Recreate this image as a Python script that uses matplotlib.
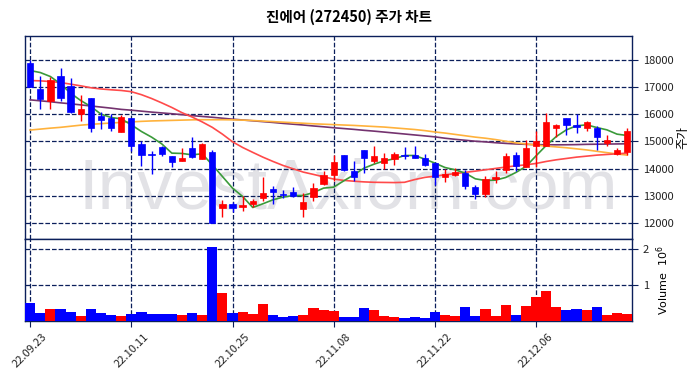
import numpy as np
import matplotlib
matplotlib.use("Agg")
import matplotlib.pyplot as plt
from matplotlib.ticker import FuncFormatter

plt.rcParams['font.family'] = ['Noto Sans CJK KR', 'DejaVu Sans']
plt.rcParams['axes.unicode_minus'] = False

#%% data
dates = ['22.09.23', '22.09.26', '22.09.27', '22.09.28', '22.09.29', '22.09.30',
         '22.10.04', '22.10.05', '22.10.06', '22.10.07', '22.10.11', '22.10.12',
         '22.10.13', '22.10.14', '22.10.17', '22.10.18', '22.10.19', '22.10.20',
         '22.10.21', '22.10.24', '22.10.25', '22.10.26', '22.10.27', '22.10.28',
         '22.10.31', '22.11.01', '22.11.02', '22.11.03', '22.11.04', '22.11.07',
         '22.11.08', '22.11.09', '22.11.10', '22.11.11', '22.11.14', '22.11.15',
         '22.11.16', '22.11.17', '22.11.18', '22.11.21', '22.11.22', '22.11.23',
         '22.11.24', '22.11.25', '22.11.28', '22.11.29', '22.11.30', '22.12.01',
         '22.12.02', '22.12.05', '22.12.06', '22.12.07', '22.12.08', '22.12.09',
         '22.12.12', '22.12.13', '22.12.14', '22.12.15', '22.12.16', '22.12.19']

open_ = [17880, 16920, 16500, 17410, 17040, 16010, 16590, 15940, 15870, 15345,
         15860, 14900, 14530, 14800, 14470, 14300, 14760, 14360, 14610, 12570,
         12700, 12580, 12710, 12940, 13260, 13070, 13140, 12510, 12960, 13430,
         13750, 14510, 13920, 14690, 14290, 14200, 14360, 14510, 14510, 14390,
         14200, 13690, 13780, 13840, 13310, 13080, 13630, 13960, 14510, 14080,
         14840, 14850, 15510, 15860, 15610, 15510, 15490, 14940, 14550, 14610]
high = [18000, 17390, 17370, 17700, 17350, 16700, 16600, 16070, 16010, 15960,
        15880, 15000, 14650, 14820, 14480, 14760, 15180, 14930, 14670, 12860,
        12760, 12980, 12880, 13690, 13370, 13200, 13320, 13120, 13470, 13930,
        14510, 14510, 14300, 14700, 14820, 14570, 14630, 14790, 14840, 14540,
        14260, 13990, 14020, 13950, 13410, 13740, 13900, 14570, 14630, 15060,
        15370, 16040, 15640, 15870, 16000, 15770, 15580, 15250, 14760, 15490]
low = [17000, 16190, 16190, 16470, 16040, 15760, 15340, 15450, 15380, 15345,
       14650, 14110, 13810, 14450, 14060, 14300, 14380, 14360, 12000, 12230,
       12420, 12450, 12610, 12830, 12710, 12920, 12960, 12220, 12830, 13400,
       13560, 13930, 13530, 13840, 14200, 13990, 14140, 14350, 14380, 14110,
       13400, 13510, 13720, 13250, 12890, 12950, 13470, 13860, 13930, 14060,
       14080, 14830, 15180, 15240, 15310, 15400, 14670, 14850, 14490, 14510]
close = [17000, 16560, 17270, 16580, 16080, 16200, 15490, 15780, 15510, 15900,
         14820, 14510, 14490, 14530, 14230, 14410, 14440, 14910, 12000, 12700,
         12540, 12670, 12820, 13100, 13130, 13020, 12990, 12790, 13290, 13750,
         14230, 13940, 13680, 14390, 14470, 14390, 14550, 14480, 14390, 14120,
         13700, 13810, 13870, 13380, 13080, 13630, 13710, 14470, 14110, 14760,
         15020, 15730, 15610, 15610, 15520, 15710, 15180, 15060, 14670, 15390]
volume = [500000, 220000, 330000, 330000, 240000, 130000, 330000, 220000, 160000, 130000,
          190000, 240000, 190000, 190000, 190000, 160000, 220000, 160000, 2070000, 790000,
          220000, 240000, 190000, 470000, 160000, 100000, 130000, 160000, 360000, 300000,
          270000, 100000, 100000, 360000, 300000, 130000, 100000, 80000, 100000, 80000,
          240000, 160000, 130000, 380000, 130000, 330000, 130000, 440000, 160000, 410000,
          660000, 830000, 380000, 300000, 330000, 300000, 380000, 160000, 220000, 190000]

ma5 = [17607, 17534, 17387, 17118, 16776, 16505, 16285, 16005, 15882, 15832,
       15612, 15367, 15160, 14914, 14572, 14560, 14510, 14547, 14143, 13714,
       13286, 12978, 12574, 12710, 12857, 12955, 13016, 13016, 13124, 13286,
       13322, 13555, 13775, 14021, 14168, 14290, 14363, 14485, 14485, 14352,
       14205, 14044, 13959, 13837, 13628, 13566, 13580, 13677, 13860, 14082,
       14473, 14853, 15183, 15428, 15575, 15612, 15513, 15428, 15270, 15220]
ma20 = [17240, 17228, 17203, 17166, 17107, 17045, 16975, 16930, 16900, 16875,
        16830, 16720, 16580, 16420, 16250, 16060, 15900, 15720, 15520, 15270,
        14990, 14780, 14600, 14425, 14266, 14118, 13995, 13874, 13790, 13700,
        13620, 13570, 13540, 13515, 13500, 13495, 13490, 13500, 13600, 13680,
        13726, 13775, 13820, 13865, 13910, 13960, 14010, 14060, 14105, 14143,
        14192, 14266, 14327, 14376, 14425, 14461, 14498, 14523, 14547, 14572]
ma60 = [15420, 15455, 15490, 15520, 15560, 15600, 15630, 15655, 15680, 15700,
        15720, 15740, 15755, 15765, 15775, 15785, 15795, 15800, 15800, 15800,
        15795, 15785, 15770, 15750, 15730, 15710, 15690, 15670, 15650, 15635,
        15620, 15605, 15590, 15570, 15550, 15530, 15500, 15470, 15440, 15400,
        15350, 15310, 15260, 15210, 15160, 15120, 15070, 15010, 14950, 14910,
        14870, 14830, 14800, 14770, 14730, 14690, 14640, 14590, 14540, 14500]
ma120 = [16530, 16495, 16460, 16420, 16385, 16345, 16305, 16265, 16225, 16180,
         16150, 16115, 16080, 16050, 16020, 15985, 15950, 15920, 15890, 15855,
         15820, 15790, 15760, 15730, 15700, 15665, 15635, 15605, 15570, 15540,
         15505, 15475, 15445, 15410, 15380, 15345, 15310, 15275, 15240, 15205,
         15170, 15120, 15080, 15045, 15010, 14985, 14955, 14930, 14910, 14895,
         14885, 14880, 14878, 14880, 14885, 14895, 14900, 14905, 14910, 14915]

#%% figure
navy = '#0b1f5b'
x = np.arange(len(dates))
o = np.array(open_)
c = np.array(close)
up = c >= o
col = np.where(up, '#ff0000', '#0000ff')

fig = plt.figure(figsize=(6.97, 3.78), dpi=100)
ax = fig.add_axes([0.036, 0.368, 0.871, 0.537])
axv = fig.add_axes([0.036, 0.151, 0.871, 0.217], sharex=ax)

# watermark
ax.text(0.5, 0.497, 'InvestAxiom.com', transform=fig.transFigure, ha='center', va='center',
        fontsize=51, family='Liberation Sans', color='#e2e2e6', zorder=0)

# moving averages
ax.plot(x, ma120, color='#74336f', lw=1.2, zorder=2)
ax.plot(x, ma60, color='#ffb23c', lw=1.2, zorder=2)
ax.plot(x, ma20, color='#ff4a4a', lw=1.2, zorder=2)
ax.plot(x, ma5, color='#3a9a3a', lw=1.2, zorder=2)

# candles
ax.vlines(x, low, high, colors=col, lw=1.0, zorder=3)
body = np.maximum(np.abs(c - o), 25)
ax.bar(x, body, bottom=np.minimum(o, c), width=0.62, color=col, edgecolor=col, lw=0.5, zorder=4)

ax.set_xlim(-0.5, len(dates) - 0.5)
ax.set_ylim(11420, 18880)
ax.set_yticks([12000, 13000, 14000, 15000, 16000, 17000, 18000])
ax.yaxis.tick_right()
ax.yaxis.set_label_position('right')
ax.set_ylabel('주가', fontsize=9, labelpad=2)
ax.tick_params(axis='x', which='both', length=0, labelbottom=False)

# volume
axv.bar(x, volume, width=1.0, color=col, zorder=3)
axv.set_ylim(0, 2290000)
axv.set_yticks([1000000, 2000000])
axv.yaxis.set_major_formatter(FuncFormatter(lambda v, p: '%d' % round(v / 1e6)))
axv.yaxis.tick_right()
axv.yaxis.set_label_position('right')
axv.set_ylabel('Volume  $10^6$', fontsize=8, family='DejaVu Sans', labelpad=4)
axv.set_xticks(x[::10])
axv.set_xticklabels(dates[::10], rotation=45)

for a in (ax, axv):
    a.grid(True, linestyle='--', color=navy, lw=0.9)
    a.set_axisbelow(True)
    for s in a.spines.values():
        s.set_color(navy)
        s.set_linewidth(1.0)
    a.tick_params(labelsize=8, colors='#222222', left=False, labelleft=False)
    a.tick_params(axis='y', right=True, length=4, color=navy)
axv.tick_params(axis='x', length=4, color=navy, labelsize=8)

fig.text(0.5, 0.954, '진에어 (272450) 주가 차트', ha='center', va='center',
         fontsize=10.5, fontweight='bold')

plt.savefig('out.png', dpi=100)
